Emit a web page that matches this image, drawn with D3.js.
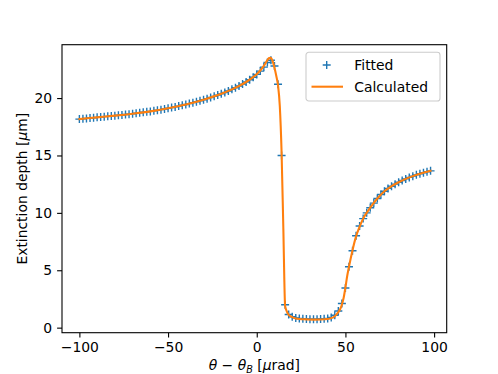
<!DOCTYPE html>
<html>
<head>
<meta charset="utf-8">
<script src="https://cdn.jsdelivr.net/npm/d3@7"></script>
<style>
  body { margin: 0; background: #fff; }
  svg { font-family: "DejaVu Sans", sans-serif; }
</style>
</head>
<body>
<div id="canvas"></div>
<script>
// Angulos (urad) de los puntos ajustados
const fitX = [
  -100, -98, -96, -94, -92, -90, -88, -86, -84, -82,
  -80, -78, -76, -74, -72, -70, -68, -66, -64, -62,
  -60, -58, -56, -54, -52, -50, -48, -46, -44, -42,
  -40, -38, -36, -34, -32, -30, -28, -26, -24, -22,
  -20, -18, -16, -14, -12, -10, -8, -6, -4, -2,
  0, 2, 4, 6, 8, 10, 12, 14, 16, 18,
  20, 22, 24, 26, 28, 30, 32, 34, 36, 38,
  40, 42, 44, 46, 48, 50, 52, 54, 56, 58,
  60, 62, 64, 66, 68, 70, 72, 74, 76, 78,
  80, 82, 84, 86, 88, 90, 92, 94, 96, 98
];
// Profundidad de extincion ajustada (um)
const fitY = [
  18.17, 18.2, 18.23, 18.26, 18.29, 18.32, 18.35, 18.38, 18.41, 18.44,
  18.47, 18.5, 18.53, 18.57, 18.6, 18.64, 18.68, 18.72, 18.76, 18.8,
  18.84, 18.89, 18.94, 18.99, 19.05, 19.11, 19.17, 19.23, 19.3, 19.37,
  19.44, 19.52, 19.6, 19.68, 19.77, 19.86, 19.95, 20.05, 20.15, 20.26,
  20.37, 20.49, 20.62, 20.76, 20.9, 21.05, 21.22, 21.4, 21.6, 21.82,
  22.06, 22.35, 22.7, 23.1, 23.3, 22.8, 21.2, 15.0, 2.0, 1.15,
  0.95, 0.85, 0.8, 0.77, 0.75, 0.74, 0.74, 0.74, 0.75, 0.77,
  0.8, 0.88, 1.08, 1.45, 2.1, 3.45, 5.3, 6.7, 8.0, 8.85,
  9.5, 10.0, 10.45, 10.85, 11.25, 11.6, 11.88, 12.13, 12.32, 12.5,
  12.67, 12.82, 12.96, 13.09, 13.2, 13.31, 13.41, 13.5, 13.58, 13.66
];
// Curva calculada
const calcX = [
  -100, -90, -80, -70, -60, -50, -40, -30, -20, -14,
  -10, -6, -2, 0, 2, 4, 5, 6, 7, 8,
  9, 10, 11, 12, 13, 14, 15, 16, 17, 18,
  20, 22, 24, 28, 32, 36, 40, 42, 44, 46,
  47, 48, 49, 50, 51, 52, 54, 56, 58, 60,
  64, 68, 72, 76, 80, 84, 88, 92, 96, 98
];
const calcY = [
  18.17, 18.32, 18.47, 18.64, 18.84, 19.11, 19.44, 19.86, 20.37, 20.76,
  21.05, 21.4, 21.82, 22.08, 22.4, 22.8, 23.05, 23.3, 23.48, 23.5,
  23.2, 22.65, 21.95, 21.1, 19.3, 15.3, 8.6, 1.9, 1.4, 1.12,
  0.92, 0.8, 0.75, 0.72, 0.7, 0.71, 0.75, 0.83, 1.0, 1.35,
  1.6, 2.0, 2.6, 3.5, 4.5, 5.3, 6.75, 7.95, 8.8, 9.5,
  10.45, 11.25, 11.88, 12.32, 12.67, 12.96, 13.2, 13.41, 13.58, 13.66
];
const xTicks = [-100, -50, 0, 50, 100];
const yTicks = [0, 5, 10, 15, 20];

const width = 498, height = 374;
const margin = {top: 44.7, left: 62, bottom: 41.3, right: 51.3};
const iwidth = width - margin.left - margin.right;
const iheight = height - margin.top - margin.bottom;
const blue = "#1f77b4", orange = "#ff7f0e";
const fs = "13.9px";

const svg = d3.select("#canvas").append("svg")
  .attr("width", width).attr("height", height);

const g = svg.append("g")
  .attr("transform", `translate(${margin.left}, ${margin.top})`);

const x = d3.scaleLinear().domain([-109.8, 107.1]).range([0, iwidth]);
const y = d3.scaleLinear().domain([-0.44, 24.65]).range([iheight, 0]);

// Marcadores "+" de los puntos ajustados
const m = 4.0;
g.selectAll("path.plus").data(fitY).enter().append("path")
  .attr("class", "plus")
  .attr("d", (d, i) => {
    const px = x(fitX[i]), py = y(d);
    return `M${px - m},${py}H${px + m}M${px},${py - m}V${py + m}`;
  })
  .attr("stroke", blue)
  .attr("stroke-width", 1.39)
  .attr("fill", "none");

// Linea calculada (encima de los marcadores)
const line = d3.line().x((d, i) => x(calcX[i])).y(d => y(d)).curve(d3.curveMonotoneX);
g.append("path")
  .datum(calcY)
  .attr("d", line)
  .attr("fill", "none")
  .attr("stroke", orange)
  .attr("stroke-width", 2.08)
  .attr("stroke-linejoin", "round")
  .attr("stroke-linecap", "square");

// Ejes
const xAxis = g.append("g")
  .attr("transform", `translate(0, ${iheight})`)
  .call(d3.axisBottom(x).tickValues(xTicks).tickSize(4.9).tickPadding(4.9)
    .tickFormat(d => d < 0 ? "\u2212" + Math.abs(d) : d));
const yAxis = g.append("g")
  .call(d3.axisLeft(y).tickValues(yTicks).tickSize(4.9).tickPadding(4.9));

[xAxis, yAxis].forEach(a => {
  a.select(".domain").remove();
  a.selectAll("line").attr("stroke", "#000").attr("stroke-width", 1.1);
  a.selectAll("text").attr("fill", "#000").style("font-size", fs)
    .style("font-family", "DejaVu Sans");
});

// Marco
g.append("rect")
  .attr("width", iwidth).attr("height", iheight)
  .attr("fill", "none").attr("stroke", "#000").attr("stroke-width", 1.1);

// Etiqueta del eje x
const xl = svg.append("text")
  .attr("x", margin.left + iwidth / 2)
  .attr("y", 370)
  .attr("text-anchor", "middle")
  .style("font-size", fs);
xl.append("tspan").attr("font-style", "italic").text("\u03b8");
xl.append("tspan").text(" \u2212 ");
xl.append("tspan").attr("font-style", "italic").text("\u03b8");
xl.append("tspan").attr("font-style", "italic").attr("dy", 3).style("font-size", "9.7px").text("B");
xl.append("tspan").attr("dy", -3).text(" [");
xl.append("tspan").attr("font-style", "italic").text("\u03bc");
xl.append("tspan").text("rad]");

// Etiqueta del eje y
const yl = svg.append("text")
  .attr("transform", `translate(27, ${margin.top + iheight / 2}) rotate(-90)`)
  .attr("text-anchor", "middle")
  .style("font-size", fs);
yl.append("tspan").text("Extinction depth [");
yl.append("tspan").attr("font-style", "italic").text("\u03bc");
yl.append("tspan").text("m]");

// Leyenda
const lg = svg.append("g").attr("transform", "translate(306, 52.3)");
lg.append("rect")
  .attr("width", 134).attr("height", 48.7)
  .attr("rx", 2.8)
  .attr("fill", "#fff").attr("fill-opacity", 0.8)
  .attr("stroke", "#cccccc").attr("stroke-width", 1.1);
lg.append("path")
  .attr("d", `M${20.7 - m},12.7H${20.7 + m}M20.7,${12.7 - m}V${12.7 + m}`)
  .attr("stroke", blue).attr("stroke-width", 1.39);
lg.append("line")
  .attr("x1", 5.5).attr("x2", 37).attr("y1", 34.4).attr("y2", 34.4)
  .attr("stroke", orange).attr("stroke-width", 2.08);
lg.append("text").attr("x", 48.3).attr("y", 18.2).style("font-size", fs).text("Fitted");
lg.append("text").attr("x", 48.3).attr("y", 40.2).style("font-size", fs).text("Calculated");
</script>
</body>
</html>
